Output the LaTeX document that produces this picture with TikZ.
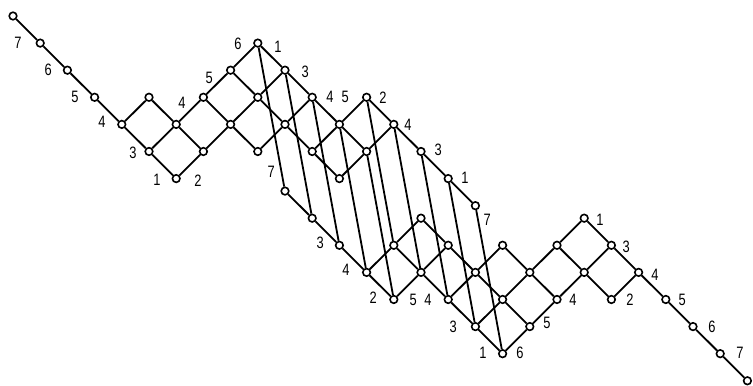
\documentclass[tikz,border=0pt]{standalone}
\usepackage{fontspec}
\setmainfont{Liberation Sans}[FakeStretch=0.78]
\begin{document}
\begin{tikzpicture}[x=27.2pt,y=-27.1pt,
  vtx/.style={circle,draw,fill=white,line width=1.6pt,minimum size=7.6pt,inner sep=0pt},
  edge/.style={line width=1.8pt},
  lab/.style={font=\fontsize{16.5}{16.5}\selectfont,inner sep=0pt}]
\useasboundingbox (-0.478,-0.590) rectangle (27.206,13.653);
% vertices: upper lattice and its 180-degree rotated copy (lower)
\foreach \i/\j in {0/0,1/1,2/2,3/3,4/4,5/3,5/5,6/4,6/6,7/3,7/5,8/2,8/4,9/1,9/3,9/5,10/2,10/4,11/3,11/5,12/4,12/6,13/3,13/5,14/4,15/5,16/6,17/7}{
  \node[vtx] (u-\i-\j) at (\i,\j) {};
  \pgfmathtruncatemacro\ri{27-\i}\pgfmathtruncatemacro\rj{13-\j}
  \node[vtx] (l-\ri-\rj) at (\ri,\rj+0.461) {};
}
% lattice edges
\foreach \a/\b/\c/\d in {0/0/1/1,1/1/2/2,2/2/3/3,3/3/4/4,4/4/5/3,4/4/5/5,5/3/6/4,5/5/6/4,5/5/6/6,6/4/7/3,6/4/7/5,6/6/7/5,7/3/8/2,7/3/8/4,7/5/8/4,8/2/9/1,8/2/9/3,8/4/9/3,8/4/9/5,9/1/10/2,9/3/10/2,9/3/10/4,9/5/10/4,10/2/11/3,10/4/11/3,10/4/11/5,11/3/12/4,11/5/12/4,11/5/12/6,12/4/13/3,12/4/13/5,12/6/13/5,13/3/14/4,13/5/14/4,14/4/15/5,15/5/16/6,16/6/17/7}{
  \pgfmathtruncatemacro\ra{27-\a}\pgfmathtruncatemacro\rb{13-\b}
  \pgfmathtruncatemacro\rc{27-\c}\pgfmathtruncatemacro\rd{13-\d}
  \draw[edge] (u-\a-\b) -- (u-\c-\d);
  \draw[edge] (l-\ra-\rb) -- (l-\rc-\rd);
}
% long connectors between the two copies
\foreach \i/\j in {9/1,10/2,11/3,13/3,12/4,14/4,13/5,15/5,16/6,17/7}{
  \pgfmathtruncatemacro\ni{\i+1}\pgfmathtruncatemacro\nj{\j+5}
  \draw[edge] (u-\i-\j) -- (l-\ni-\nj);
}
% labels
\node[lab] (t1) at (0.18,1.0) {7};
\node[lab] (t2) at (1.29,1.99) {6};
\node[lab] (t3) at (2.28,2.99) {5};
\node[lab] (t4) at (3.27,3.91) {4};
\node[lab] (t5) at (4.41,5.06) {3};
\node[lab] (t6) at (5.29,6.05) {1};
\node[lab] (t7) at (6.80,6.09) {2};
\node[lab] (t8) at (6.21,3.21) {4};
\node[lab] (t9) at (7.21,2.29) {5};
\node[lab] (t10) at (8.27,1.03) {6};
\node[lab] (t11) at (9.74,1.14) {1};
\node[lab] (t12) at (10.74,2.07) {3};
\node[lab] (t13) at (11.65,2.99) {4};
\node[lab] (t14) at (12.21,2.99) {5};
\node[lab] (t15) at (13.60,3.03) {2};
\node[lab] (t16) at (14.52,4.02) {4};
\node[lab] (t17) at (15.63,4.94) {3};
\node[lab] (t18) at (16.62,5.98) {1};
\node[lab] (t19) at (17.43,7.53) {7};
\node[lab] (t20) at (9.49,5.76) {7};
\node[lab] (t21) at (11.29,8.38) {3};
\node[lab] (t22) at (12.24,9.37) {4};
\node[lab] (t23) at (13.24,10.41) {2};
\node[lab] (t24) at (14.71,10.48) {5};
\node[lab] (t25) at (15.26,10.48) {4};
\node[lab] (t26) at (16.18,11.48) {3};
\node[lab] (t27) at (17.28,12.44) {1};
\node[lab] (t28) at (18.64,12.44) {6};
\node[lab] (t29) at (19.63,11.33) {5};
\node[lab] (t30) at (20.59,10.48) {4};
\node[lab] (t31) at (22.68,10.48) {2};
\node[lab] (t32) at (21.58,7.53) {1};
\node[lab] (t33) at (22.54,8.52) {3};
\node[lab] (t34) at (23.60,9.56) {4};
\node[lab] (t35) at (24.60,10.48) {5};
\node[lab] (t36) at (25.70,11.48) {6};
\node[lab] (t37) at (26.73,12.44) {7};
\end{tikzpicture}
\end{document}
